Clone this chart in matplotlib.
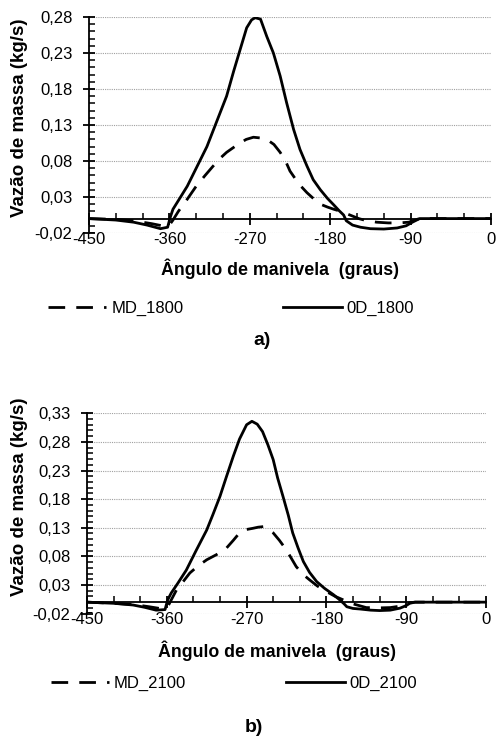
import matplotlib
matplotlib.use("Agg")
import matplotlib.pyplot as plt
from matplotlib.ticker import MultipleLocator

plt.rcParams['font.family'] = ['Liberation Sans', 'DejaVu Sans']

# ---------------- data ----------------
x_0d_1800 = [-450, -420, -400, -385, -370, -362, -359, -356, -350, -340, -330, -318, -307, -296,
             -288, -281, -273.5, -268, -264, -258, -251, -243.6, -236, -228.8, -221, -213.8, -206,
             -199, -191, -183, -176, -170, -165, -162, -155, -146, -135, -120, -105, -95, -88,
             -80, -60, -30, 0]
y_0d_1800 = [0, -0.002, -0.005, -0.009, -0.014, -0.012, 0.002, 0.013, 0.025, 0.045, 0.070, 0.100,
             0.135, 0.170, 0.205, 0.234, 0.265, 0.276, 0.279, 0.277, 0.253, 0.230, 0.198, 0.161,
             0.124, 0.096, 0.073, 0.054, 0.040, 0.028, 0.019, 0.011, 0.005, -0.003, -0.009,
             -0.012, -0.014, -0.0145, -0.013, -0.010, -0.005, 0, 0, 0, 0]

x_md_1800 = [-450, -420, -400, -380, -368, -360, -356, -350, -340, -330, -320, -311, -303, -296,
             -288, -281, -274, -266, -258, -251, -243, -236, -230, -225, -215, -206, -198, -191,
             -183, -176, -168, -158, -148, -139, -128, -115, -103, -92, -85, -80, -60, -30, 0]
y_md_1800 = [0, -0.001, -0.003, -0.007, -0.010, -0.009, -0.002, 0.010, 0.027, 0.045, 0.060, 0.073,
             0.084, 0.092, 0.099, 0.105, 0.110, 0.113, 0.112, 0.110, 0.103, 0.092, 0.080, 0.066,
             0.048, 0.036, 0.027, 0.020, 0.016, 0.013, 0.010, 0.005, 0.000, -0.003, -0.005,
             -0.006, -0.006, -0.005, -0.002, 0, 0, 0, 0]

x_0d_2100 = [-450, -420, -398, -385, -372, -362, -359, -355, -348, -338, -327, -315, -308, -300,
             -293, -285, -278, -270, -264, -258, -252, -246, -240, -235, -229, -223, -218, -212,
             -206, -199, -191, -182, -172, -165, -160, -157, -150, -142, -130, -120, -108, -97,
             -90, -86, -80, -60, -30, 0]
y_0d_2100 = [0, -0.002, -0.005, -0.009, -0.014, -0.013, 0.004, 0.016, 0.032, 0.056, 0.090, 0.126,
             0.153, 0.185, 0.218, 0.255, 0.285, 0.310, 0.316, 0.311, 0.298, 0.275, 0.249, 0.217,
             0.185, 0.152, 0.121, 0.095, 0.071, 0.052, 0.036, 0.024, 0.013, 0.004, -0.003,
             -0.008, -0.011, -0.012, -0.014, -0.0147, -0.014, -0.0105, -0.006, -0.002, 0, 0, 0, 0]

x_md_2100 = [-450, -420, -398, -380, -368, -362, -358, -349, -341, -334, -325, -315, -304, -293,
             -285, -278, -270, -263, -257, -251, -246, -240, -233, -225, -214, -206, -199, -190,
             -180, -170, -161, -150, -135, -120, -108, -97, -90, -86, -80, -60, -30, 0]
y_md_2100 = [0, -0.002, -0.004, -0.008, -0.011, -0.011, -0.005, 0.0215, 0.037, 0.051, 0.063, 0.074,
             0.083, 0.094, 0.108, 0.121, 0.127, 0.129, 0.131, 0.132, 0.128, 0.121, 0.108, 0.091,
             0.062, 0.048, 0.039, 0.028, 0.0185, 0.010, 0.004, -0.003, -0.0095, -0.010, -0.0095,
             -0.007, -0.004, -0.001, 0, 0, 0, 0]

x_ticks = [-450, -360, -270, -180, -90, 0]
x_ticklabels = ['-450', '-360', '-270', '-180', '-90', '0']
y_ticks_a = [-0.02, 0.03, 0.08, 0.13, 0.18, 0.23, 0.28]
y_ticklabels_a = ['-0,02', '0,03', '0,08', '0,13', '0,18', '0,23', '0,28']
y_ticks_b = [-0.02, 0.03, 0.08, 0.13, 0.18, 0.23, 0.28, 0.33]
y_ticklabels_b = ['-0,02', '0,03', '0,08', '0,13', '0,18', '0,23', '0,28', '0,33']

FS = 12
FSX = 12.8
FSY = 13.5
FSP = 14
DASH = (0, (6, 4))
LW = 2.0

fig = plt.figure(figsize=(4.98, 7.38), dpi=100)


def setup(ax, yticks, ylabels, ymax):
    ax.set_xlim(-450, 0)
    ax.set_ylim(-0.02, ymax)
    for s in ['top', 'right']:
        ax.spines[s].set_visible(False)
    ax.spines['bottom'].set_position(('data', 0))
    ax.spines['bottom'].set_linewidth(1.3)
    ax.spines['left'].set_linewidth(1.3)
    ax.set_yticks(yticks)
    ax.set_yticklabels(ylabels, fontsize=FS)
    ax.yaxis.set_minor_locator(MultipleLocator(0.01))
    ax.tick_params(axis='y', which='major', direction='inout', length=8, width=1.3, pad=8)
    ax.tick_params(axis='y', which='minor', direction='in', length=4, width=1.1)
    ax.set_xticks(x_ticks)
    ax.set_xticklabels([])
    ax.xaxis.set_minor_locator(MultipleLocator(30))
    ax.tick_params(axis='x', which='major', direction='inout', length=9, width=1.3)
    ax.tick_params(axis='x', which='minor', direction='in', length=4, width=1.1)
    ax.yaxis.grid(True, which='major', linestyle=(0, (1, 1)), color='#a0a0a0', linewidth=0.8)
    ax.set_axisbelow(True)
    sec = ax.secondary_xaxis(0)
    sec.set_xticks(x_ticks)
    sec.set_xticklabels(x_ticklabels, fontsize=FS)
    sec.tick_params(length=0, pad=-1)
    sec.spines['bottom'].set_visible(False)


# ---- panel a ----
ax1 = fig.add_axes([89 / 498, 1 - 233 / 738, 402 / 498, 216 / 738])
setup(ax1, y_ticks_a, y_ticklabels_a, 0.28)
l1, = ax1.plot(x_md_1800, y_md_1800, color='black', lw=LW, linestyle=DASH, label='MD_1800')
l2, = ax1.plot(x_0d_1800, y_0d_1800, color='black', lw=LW, label='0D_1800')
fig.text(20 / 498, 1 - 118 / 738, 'Vazão de massa (kg/s)', rotation=90, ha='center', va='center',
         fontsize=FSY, fontweight='bold')
fig.text(280 / 498, 1 - 269 / 738, 'Ângulo de manivela  (graus)', ha='center', va='center',
         fontsize=FSX, fontweight='bold')
fig.legend(handles=[l1, l2], loc='center', bbox_to_anchor=(231 / 498, 1 - 308 / 738), ncol=2,
           frameon=False, fontsize=FS, handlelength=3.5, columnspacing=6.0, handletextpad=0.3)
fig.text(262 / 498, 1 - 340 / 738, 'a)', ha='center', va='center', fontsize=FSP, fontweight='bold')

# ---- panel b ----
ax2 = fig.add_axes([87 / 498, 1 - 613.6 / 738, 399 / 498, 200.3 / 738])
setup(ax2, y_ticks_b, y_ticklabels_b, 0.33)
l3, = ax2.plot(x_md_2100, y_md_2100, color='black', lw=LW, linestyle=DASH, label='MD_2100')
l4, = ax2.plot(x_0d_2100, y_0d_2100, color='black', lw=LW, label='0D_2100')
fig.text(19 / 498, 1 - 497 / 738, 'Vazão de massa (kg/s)', rotation=90, ha='center', va='center',
         fontsize=FSY, fontweight='bold')
fig.text(277 / 498, 1 - 651 / 738, 'Ângulo de manivela  (graus)', ha='center', va='center',
         fontsize=FSX, fontweight='bold')
fig.legend(handles=[l3, l4], loc='center', bbox_to_anchor=(234 / 498, 1 - 683 / 738), ncol=2,
           frameon=False, fontsize=FS, handlelength=3.5, columnspacing=6.0, handletextpad=0.3)
fig.text(254 / 498, 1 - 728 / 738, 'b)', ha='center', va='center', fontsize=FSP, fontweight='bold')

fig.savefig('out.png', dpi=100)
